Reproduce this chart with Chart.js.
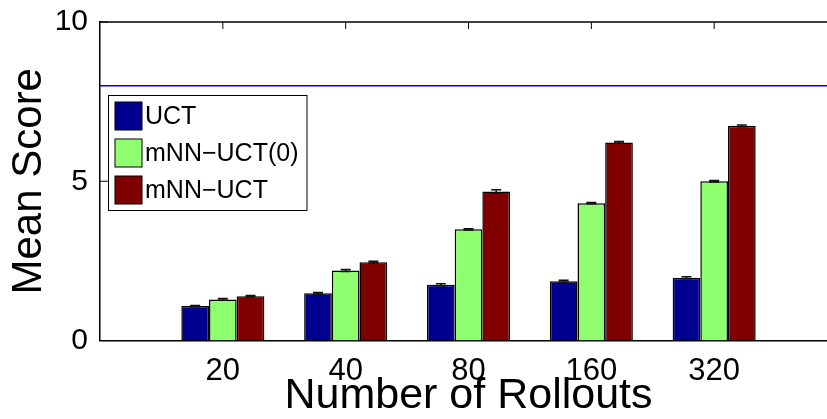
<!DOCTYPE html>
<html>
<head>
<meta charset="utf-8">
<script src="https://cdn.jsdelivr.net/npm/chart.js@4.4.1/dist/chart.umd.min.js"></script>
<style>
  html, body { margin: 0; padding: 0; background: #fff; overflow: hidden; }
  /* the original figure is cropped on the right, so the canvas runs past the window */
  #wrap { position: relative; width: 850px; height: 419px; }
</style>
</head>
<body>
<div id="wrap"><canvas id="rollouts-chart"></canvas></div>
<script>
const rollouts = ['20', '40', '80', '160', '320'];
const uctScores = [1.08, 1.48, 1.75, 1.86, 1.97];
const mnnUct0Scores = [1.29, 2.20, 3.49, 4.31, 5.00];
const mnnUctScores = [1.39, 2.46, 4.68, 6.22, 6.74];
const uctErr = [0.02, 0.03, 0.03, 0.03, 0.03];
const mnnUct0Err = [0.03, 0.03, 0.02, 0.02, 0.02];
const mnnUctErr = [0.02, 0.03, 0.05, 0.03, 0.03];
const referenceScore = 8;
const yTicks = [0, 5, 10];

const FONT = '"Liberation Sans", Helvetica, Arial, sans-serif';

// x axis runs from 0 to 6 with the rollout groups at 1..5
const labels = ['', ...rollouts, ''];
const pad = (arr) => [null, ...arr, null];

const matlabAxes = {
  id: 'matlabAxes',
  beforeDatasetsDraw(chart) {
    const { ctx, chartArea: a, scales: { x, y } } = chart;
    ctx.save();
    ctx.strokeStyle = '#000';
    ctx.lineWidth = 1.5;
    ctx.beginPath();
    ctx.moveTo(a.left, a.top);
    ctx.lineTo(a.right, a.top);
    ctx.stroke();

    // inward tick marks
    ctx.lineWidth = 1;
    ctx.beginPath();
    y.ticks.forEach(t => {
      const py = y.getPixelForValue(t.value);
      ctx.moveTo(a.left, py);
      ctx.lineTo(a.left + 8, py);
    });
    rollouts.forEach((_, i) => {
      const px = x.getPixelForValue(i + 1);
      ctx.moveTo(px, a.top);
      ctx.lineTo(px, a.top + 7);
      ctx.moveTo(px, a.bottom);
      ctx.lineTo(px, a.bottom - 7);
    });
    ctx.stroke();
    ctx.restore();
  },
  afterDatasetsDraw(chart) {
    const { ctx, chartArea: a, scales: { y } } = chart;
    ctx.save();

    // error bars
    ctx.strokeStyle = '#111';
    ctx.lineWidth = 1.5;
    chart.data.datasets.forEach((ds, i) => {
      if (!ds.errors) return;
      const meta = chart.getDatasetMeta(i);
      meta.data.forEach((bar, j) => {
        const v = ds.data[j];
        if (v == null) return;
        const e = ds.errors[j - 1];
        const top = y.getPixelForValue(v + e);
        const bot = y.getPixelForValue(v - e);
        ctx.beginPath();
        ctx.moveTo(bar.x, top); ctx.lineTo(bar.x, bot);
        ctx.moveTo(bar.x - 5, top); ctx.lineTo(bar.x + 5, top);
        ctx.moveTo(bar.x - 5, bot); ctx.lineTo(bar.x + 5, bot);
        ctx.stroke();
      });
    });

    // legend box inside the axes, top left
    const bx = a.left + 8.5, by = a.top + 73.5, bw = 198.5, bh = 115;
    ctx.fillStyle = '#fff';
    ctx.fillRect(bx, by, bw, bh);
    ctx.strokeStyle = '#000';
    ctx.lineWidth = 1;
    ctx.strokeRect(bx, by, bw, bh);
    ctx.font = '25px ' + FONT;
    ctx.textBaseline = 'middle';
    ctx.textAlign = 'left';
    chart.data.datasets.filter(ds => ds.type !== 'line').forEach((ds, k) => {
      const sy = by + 6.5 + k * 37;
      ctx.fillStyle = ds.backgroundColor;
      ctx.fillRect(bx + 6.5, sy, 27, 28);
      ctx.strokeRect(bx + 6.5, sy, 27, 28);
      ctx.fillStyle = '#000';
      ctx.fillText(ds.label, bx + 36.5, sy + 15);
    });
    ctx.restore();
  }
};

new Chart(document.getElementById('rollouts-chart'), {
  type: 'bar',
  data: {
    labels: labels,
    datasets: [
      {
        label: 'UCT',
        data: pad(uctScores),
        errors: uctErr,
        backgroundColor: '#00008f',
        borderColor: '#000',
        borderWidth: 1.5,
      },
      {
        label: 'mNN\u2212UCT(0)',
        data: pad(mnnUct0Scores),
        errors: mnnUct0Err,
        backgroundColor: '#8fff70',
        borderColor: '#000',
        borderWidth: 1.5,
      },
      {
        label: 'mNN\u2212UCT',
        data: pad(mnnUctScores),
        errors: mnnUctErr,
        backgroundColor: '#800000',
        borderColor: '#000',
        borderWidth: 1.5,
      },
      {
        type: 'line',
        label: 'reference',
        data: labels.map(() => referenceScore),
        borderColor: '#0000ff',
        borderWidth: 1.5,
        pointRadius: 0,
        fill: false,
      },
    ],
  },
  options: {
    responsive: true,
    maintainAspectRatio: false,
    animation: false,
    layout: { padding: { top: 21.7, right: 13, bottom: 0, left: 0 } },
    plugins: {
      legend: { display: false },
      tooltip: { enabled: false },
    },
    datasets: {
      bar: { categoryPercentage: 0.676, barPercentage: 1.0 },
    },
    scales: {
      x: {
        offset: false,
        grid: { display: false },
        border: { display: true, color: '#000', width: 1.5 },
        ticks: {
          color: '#000',
          padding: 4,
          maxRotation: 0,
          autoSkip: false,
          font: { family: FONT, size: 31 },
        },
        title: {
          display: true,
          text: 'Number of Rollouts',
          color: '#000',
          font: { family: FONT, size: 43, lineHeight: 1 },
          padding: { top: 0, bottom: 1.5 },
        },
        afterFit: (s) => { s.height = 78.5; },
      },
      y: {
        min: 0,
        max: 10,
        afterBuildTicks: (s) => { s.ticks = yTicks.map(v => ({ value: v })); },
        grid: { display: false },
        border: { display: true, color: '#000', width: 1.5 },
        ticks: {
          color: '#000',
          padding: 4,
          font: { family: FONT, size: 30 },
        },
        title: {
          display: true,
          text: 'Mean Score',
          color: '#000',
          font: { family: FONT, size: 42, lineHeight: 1 },
          padding: { top: 8, bottom: 0 },
        },
        afterFit: (s) => { s.width = 100; },
      },
    },
  },
  plugins: [matlabAxes],
});
</script>
</body>
</html>
